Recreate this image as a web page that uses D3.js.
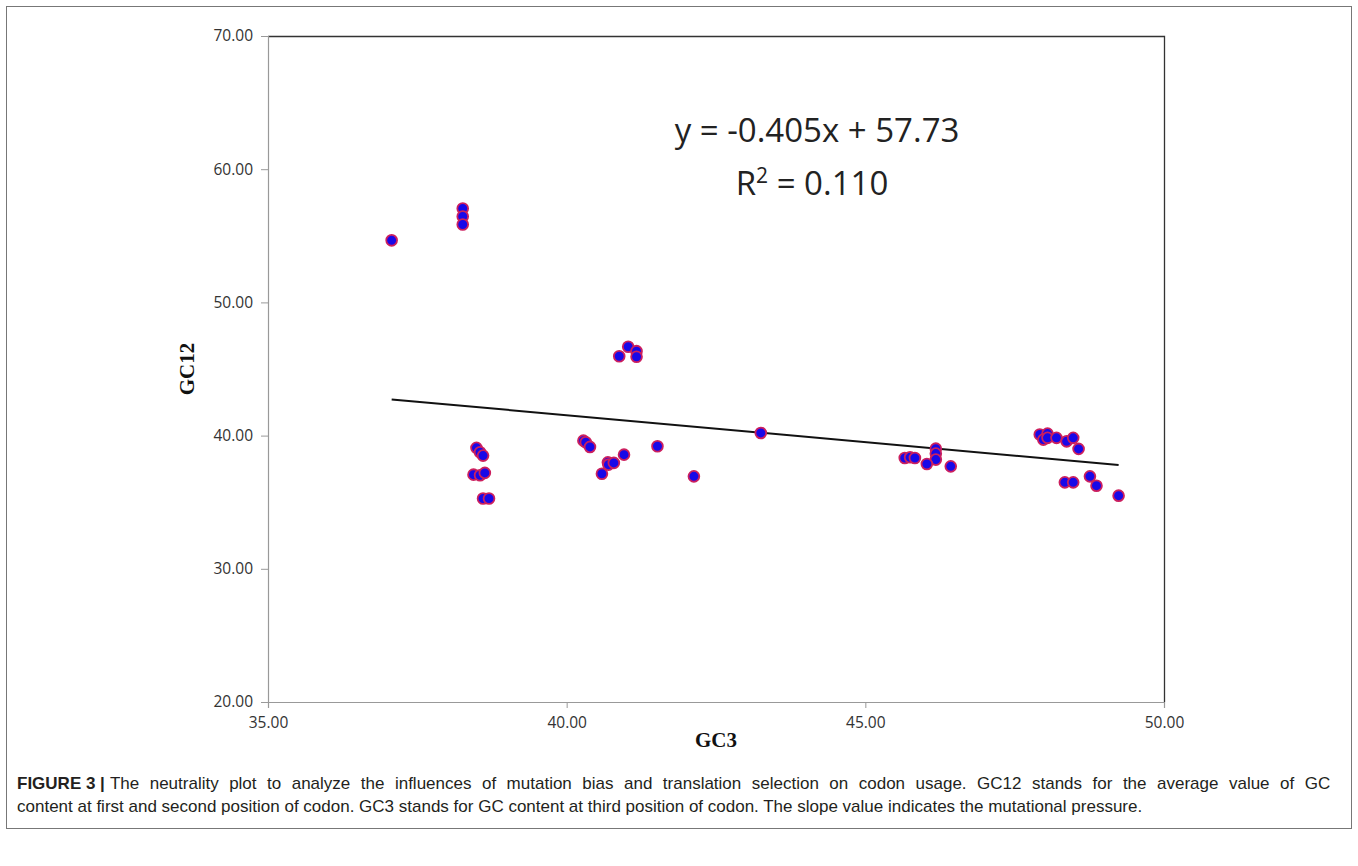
<!DOCTYPE html>
<html>
<head>
<meta charset="utf-8">
<script src="https://cdn.jsdelivr.net/npm/d3@7"></script>
<style>
  html, body { margin: 0; padding: 0; background: #fff; }
  svg { display: block; }
</style>
</head>
<body>
<svg id="chart" width="1358" height="866"></svg>
<script>
// ---- data ----
const gc3 = [
  37.07,
  38.26, 38.26, 38.26,
  38.49, 38.55, 38.60, 38.44, 38.55, 38.63, 38.60, 38.70,
  40.28, 40.32, 40.39, 40.69, 40.70, 40.79, 40.59, 40.96, 41.52, 42.13,
  40.88, 41.03, 41.17, 41.17,
  43.25,
  45.66, 45.75, 45.83, 46.18, 46.18, 46.18, 46.03, 46.43,
  47.92, 48.05, 47.98, 48.05, 48.20, 48.37, 48.48, 48.57,
  48.34, 48.48, 48.76, 48.87, 49.24
];
const gc12 = [
  54.66,
  57.05, 56.45, 55.85,
  39.08, 38.75, 38.50, 37.07, 37.02, 37.20, 35.28, 35.28,
  39.62, 39.50, 39.15, 37.99, 37.82, 37.95, 37.14, 38.57, 39.20, 36.94,
  45.96, 46.67, 46.34, 45.92,
  40.20,
  38.32, 38.37, 38.32, 39.02, 38.65, 38.20, 37.87, 37.69,
  40.08, 40.15, 39.70, 39.83, 39.83, 39.57, 39.83, 39.00,
  36.49, 36.49, 36.94, 36.24, 35.49
];
const slope = -0.405, intercept = 57.73, r2 = 0.110;
const xTicks = [35, 40, 45, 50];
const yTicks = [20, 30, 40, 50, 60, 70];
const xTitle = "GC3", yTitle = "GC12";
const equationText = "y = -0.405x + 57.73";
const captionBold = "FIGURE 3 |";
const captionLines = [
  "The neutrality plot to analyze the influences of mutation bias and translation selection on codon usage. GC12 stands for the average value of GC",
  "content at first and second position of codon. GC3 stands for GC content at third position of codon. The slope value indicates the mutational pressure."
];

// ---- layout ----
const svg = d3.select("#chart");
const L = 268, R = 1164, T = 36, B = 702;
const x = d3.scaleLinear().domain([35, 50]).range([L, R]);
const y = d3.scaleLinear().domain([20, 70]).range([B, T]);

// outer frame
svg.append("rect").attr("x", 6.5).attr("y", 6.5).attr("width", 1345).attr("height", 822)
  .attr("fill", "none").attr("stroke", "#777").attr("stroke-width", 1);

// plot area top/right border
svg.append("path")
  .attr("d", `M${L},${T + 0.5}H${R + 0.5}V${B}`)
  .attr("fill", "none").attr("stroke", "#333").attr("stroke-width", 1.3);

// axes
const fmt = d3.format(".2f");
const yAxis = svg.append("g").attr("transform", `translate(${L},0)`)
  .call(d3.axisLeft(y).tickValues(yTicks).tickFormat(fmt).tickSize(7).tickPadding(8));
const xAxis = svg.append("g").attr("transform", `translate(0,${B})`)
  .call(d3.axisBottom(x).tickValues(xTicks).tickFormat(fmt).tickSize(6).tickPadding(9));
[yAxis, xAxis].forEach(a => {
  a.attr("font-family", "'Open Sans', 'Liberation Sans', sans-serif").attr("font-size", 15.5);
  a.select(".domain").attr("stroke", "#999").attr("stroke-width", 1.2);
  a.selectAll(".tick line").attr("stroke", "#999");
  a.selectAll(".tick text").style("font-size", "15.5px").attr("fill", "#333");
});

// trend line
const x0 = d3.min(gc3), x1 = d3.max(gc3);
svg.append("line")
  .attr("x1", x(x0)).attr("y1", y(slope * x0 + intercept))
  .attr("x2", x(x1)).attr("y2", y(slope * x1 + intercept))
  .attr("stroke", "#111").attr("stroke-width", 2);

// points
svg.append("g").selectAll("circle").data(gc3.map((d, i) => [d, gc12[i]])).join("circle")
  .attr("cx", d => x(d[0])).attr("cy", d => y(d[1])).attr("r", 5.4)
  .attr("fill", "#1808e8").attr("stroke", "#cc1f5e").attr("stroke-width", 1.8);

// equation
const eq = svg.append("g").attr("font-family", "'Open Sans', 'Liberation Sans', sans-serif")
  .attr("fill", "#222").attr("text-anchor", "middle");
eq.append("text").attr("x", 817).attr("y", 142).attr("font-size", 33).text(equationText);
const rt = eq.append("text").attr("x", 812).attr("y", 195).attr("font-size", 33);
rt.append("tspan").text("R");
rt.append("tspan").attr("font-size", 21).attr("dy", -12).text("2");
rt.append("tspan").attr("dy", 12).text(" = " + r2.toFixed(3));

// axis titles
svg.append("text").attr("x", 716).attr("y", 747).attr("text-anchor", "middle")
  .attr("font-family", "'Liberation Serif', 'Times New Roman', serif").attr("font-weight", "bold")
  .attr("font-size", 21).attr("fill", "#111").text(xTitle);
svg.append("text").attr("transform", "translate(194,369) rotate(-90)").attr("text-anchor", "middle")
  .attr("font-family", "'Liberation Serif', 'Times New Roman', serif").attr("font-weight", "bold")
  .attr("font-size", 21).attr("fill", "#111").text(yTitle);

// caption
const cap = svg.append("g").attr("font-family", "'Liberation Sans', Arial, sans-serif")
  .attr("font-size", 17).attr("fill", "#231f20");
const c1 = cap.append("text").attr("x", 17).attr("y", 789);
c1.append("tspan").attr("font-weight", "bold").text(captionBold);
const c1b = c1.append("tspan").attr("dx", 5).text(captionLines[0]);
// justify the first line to the full caption width
const targetRight = 1331;
const natural = c1.node().getComputedTextLength();
const gaps = captionLines[0].split(" ").length;
const extra = (targetRight - 17 - natural) / gaps;
if (extra > 0) c1b.attr("word-spacing", extra);
cap.append("text").attr("x", 17).attr("y", 812).text(captionLines[1]);
</script>
</body>
</html>
